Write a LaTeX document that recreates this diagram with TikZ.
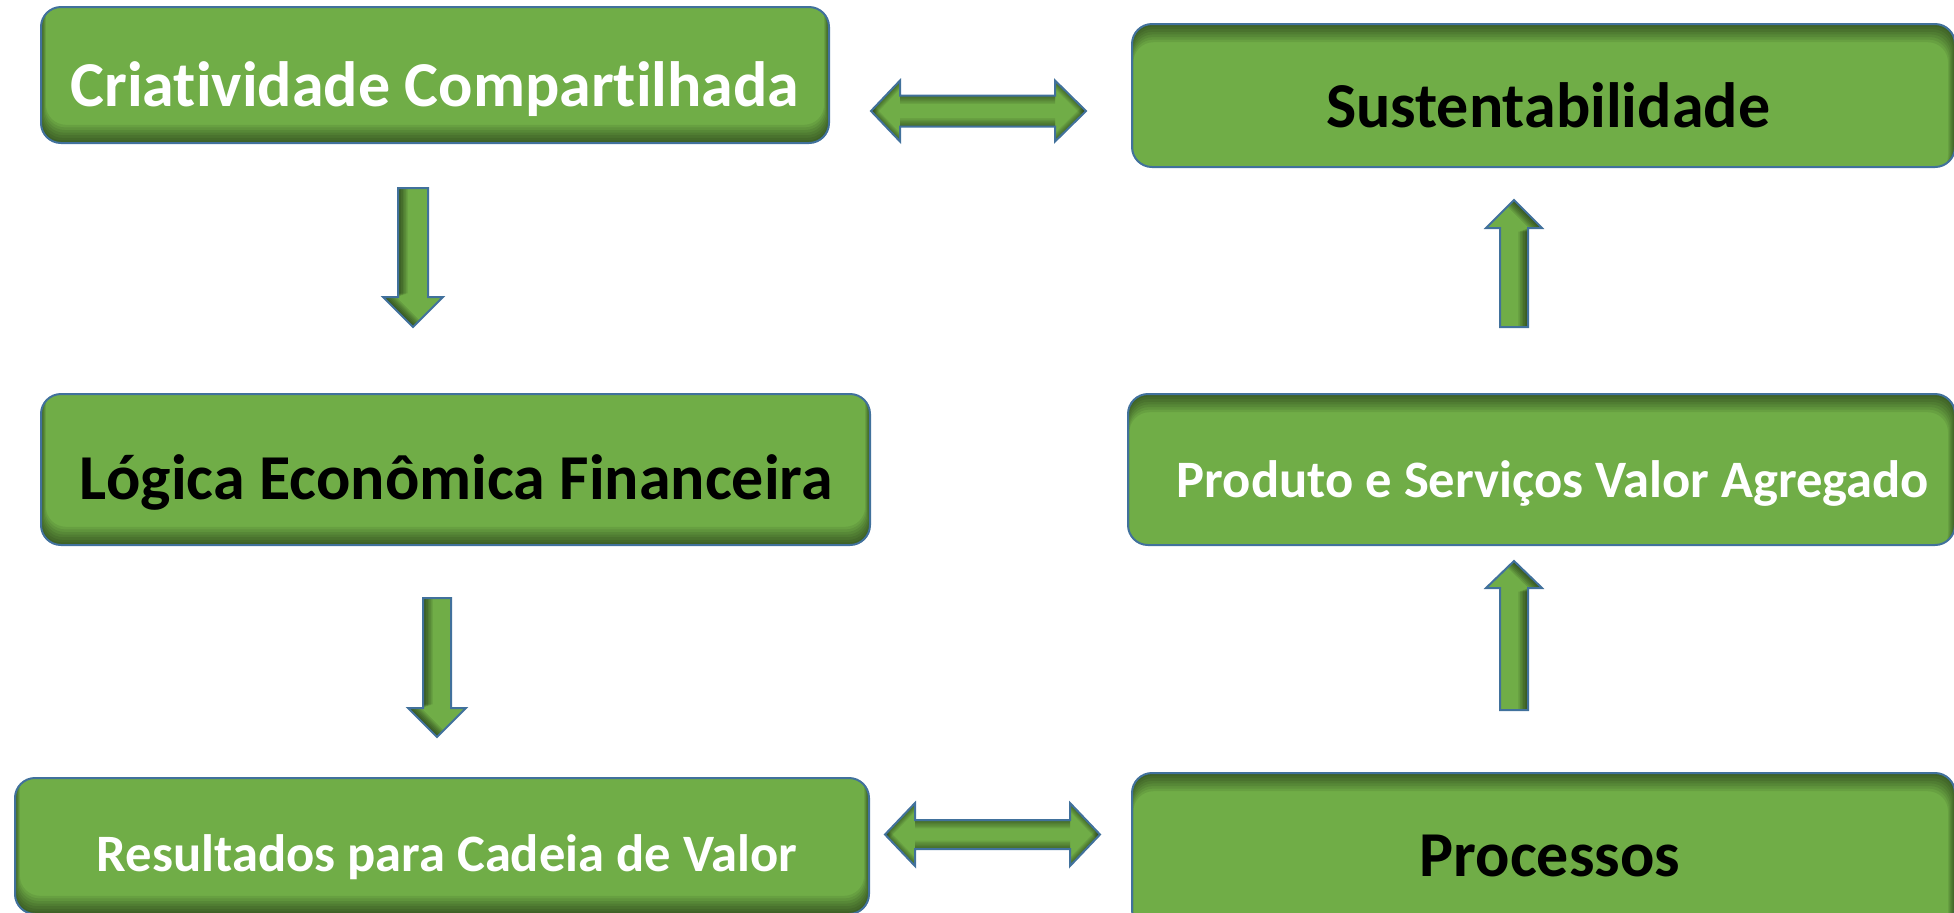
\documentclass[tikz,border=0pt]{standalone}
\usepackage{fontspec}
\setmainfont{Carlito}[Ligatures=NoCommon]
\definecolor{boxgreen}{HTML}{70AD47}
\definecolor{edgeblue}{HTML}{41719C}
\newcommand\varrowpath[6]{({#1-#5},#2) -- ({#1+#5},#2) -- ({#1+#5},#3) -- ({#1+#6},#3) -- (#1,#4) -- ({#1-#6},#3) -- ({#1-#5},#3) -- cycle}
\newcommand\harrowpath[7]{(#1,#5) -- (#2,{#5-#7}) -- (#2,{#5-#6}) -- (#3,{#5-#6}) -- (#3,{#5-#7}) -- (#4,#5) -- (#3,{#5+#7}) -- (#3,{#5+#6}) -- (#2,{#5+#6}) -- (#2,{#5+#7}) -- cycle}
\newcommand\blockarrow[3]{%
  \fill[boxgreen] #1;
  \begin{scope}
    \clip #1;
    \foreach \k in {1,...,6}{
      \foreach \dx/\dy in {#2}{
        \begin{scope}[shift={({\k*\dx*1pt},{\k*\dy*1pt})}]
          \fill[black,opacity=#3,even odd rule] (-200,-200) rectangle (2200,1200) #1;
        \end{scope}}}
  \end{scope}
  \draw[edgeblue,line width=1pt,line join=miter] #1;
}
\tikzset{
  gbox/.style={draw=edgeblue, line width=1pt, fill=boxgreen, rounded corners=10pt, inner sep=0pt},
  shadebottom/.style={path picture={\foreach \k in {1,...,7}{
    \fill[black,opacity=0.075,even odd rule]
      ([shift={(-20pt,-20pt)}]path picture bounding box.south west) rectangle ([shift={(20pt,20pt)}]path picture bounding box.north east)
      ([shift={({\k*0.35pt},{\k*1.3pt})}]path picture bounding box.south west) rectangle ([shift={({-\k*0.35pt},{\k*0.6pt})}]path picture bounding box.north east);}}},
  shadetop/.style={path picture={\foreach \k in {1,...,7}{
    \fill[black,opacity=0.075,even odd rule]
      ([shift={(-20pt,-20pt)}]path picture bounding box.south west) rectangle ([shift={(20pt,20pt)}]path picture bounding box.north east)
      ([shift={({\k*0.1pt},{-\k*0.6pt})}]path picture bounding box.south west) rectangle ([shift={({-\k*0.5pt},{-\k*1.3pt})}]path picture bounding box.north east);}}},
  lblbig/.style={font=\bfseries\fontsize{32}{38}\selectfont, anchor=base, inner sep=0pt},
  lblsmall/.style={font=\bfseries\fontsize{26.3}{32}\selectfont, anchor=base, inner sep=0pt},
}
\begin{document}
\begin{tikzpicture}[x=0.5pt,y=-0.5pt]
\useasboundingbox (0,0) rectangle (1954,912);
\clip (0,0) rectangle (1954,912);
% boxes
\node[gbox, shadebottom, minimum width=394pt, minimum height=68pt] (b1) at (435,75) {};
\node[gbox, shadetop, minimum width=411.5pt, minimum height=71.5pt] (b2) at (1543.5,95.5) {};
\node[gbox, shadebottom, minimum width=414.5pt, minimum height=75.5pt] (b3) at (455.5,469.5) {};
\node[gbox, shadetop, minimum width=413.5pt, minimum height=75.5pt] (b4) at (1541.5,469.5) {};
\node[gbox, shadebottom, minimum width=427pt, minimum height=68pt] (b5) at (442,846) {};
\node[gbox, shadetop, minimum width=411.5pt, minimum height=78.5pt] (b6) at (1543.5,851.5) {};
% labels
\node[lblbig, white] (t1) at (435,106) {Criatividade Compartilhada};
\node[lblbig, black] (t2) at (1548,127) {Sustentabilidade};
\node[lblbig, black] (t3) at (456,499) {Lógica Econômica Financeira};
\node[lblsmall, white] (t4) at (1553,497) {Produto e Serviços Valor Agregado};
\node[lblsmall, white] (t5) at (447,871) {Resultados para Cadeia de Valor};
\node[lblbig, black] (t6) at (1550,876) {Processos};
% block arrows
\blockarrow{\varrowpath{413}{188}{297}{327}{15}{30}}{0.8/0.3}{0.1}
\blockarrow{\varrowpath{437}{598}{708}{737}{14}{29}}{0.8/0.3}{0.1}
\blockarrow{\varrowpath{1514}{327}{228}{200}{14}{28}}{-0.8/-0.3}{0.1}
\blockarrow{\varrowpath{1514}{710}{588}{561}{14}{28}}{-0.8/-0.3}{0.1}
\blockarrow{\harrowpath{871}{900}{1055}{1086}{111}{15.5}{30.5}}{0/0.7,0/-0.7}{0.07}
\blockarrow{\harrowpath{885}{915}{1070}{1100}{834.5}{14.5}{31.5}}{0/0.7,0/-0.7}{0.07}
\end{tikzpicture}
\end{document}
